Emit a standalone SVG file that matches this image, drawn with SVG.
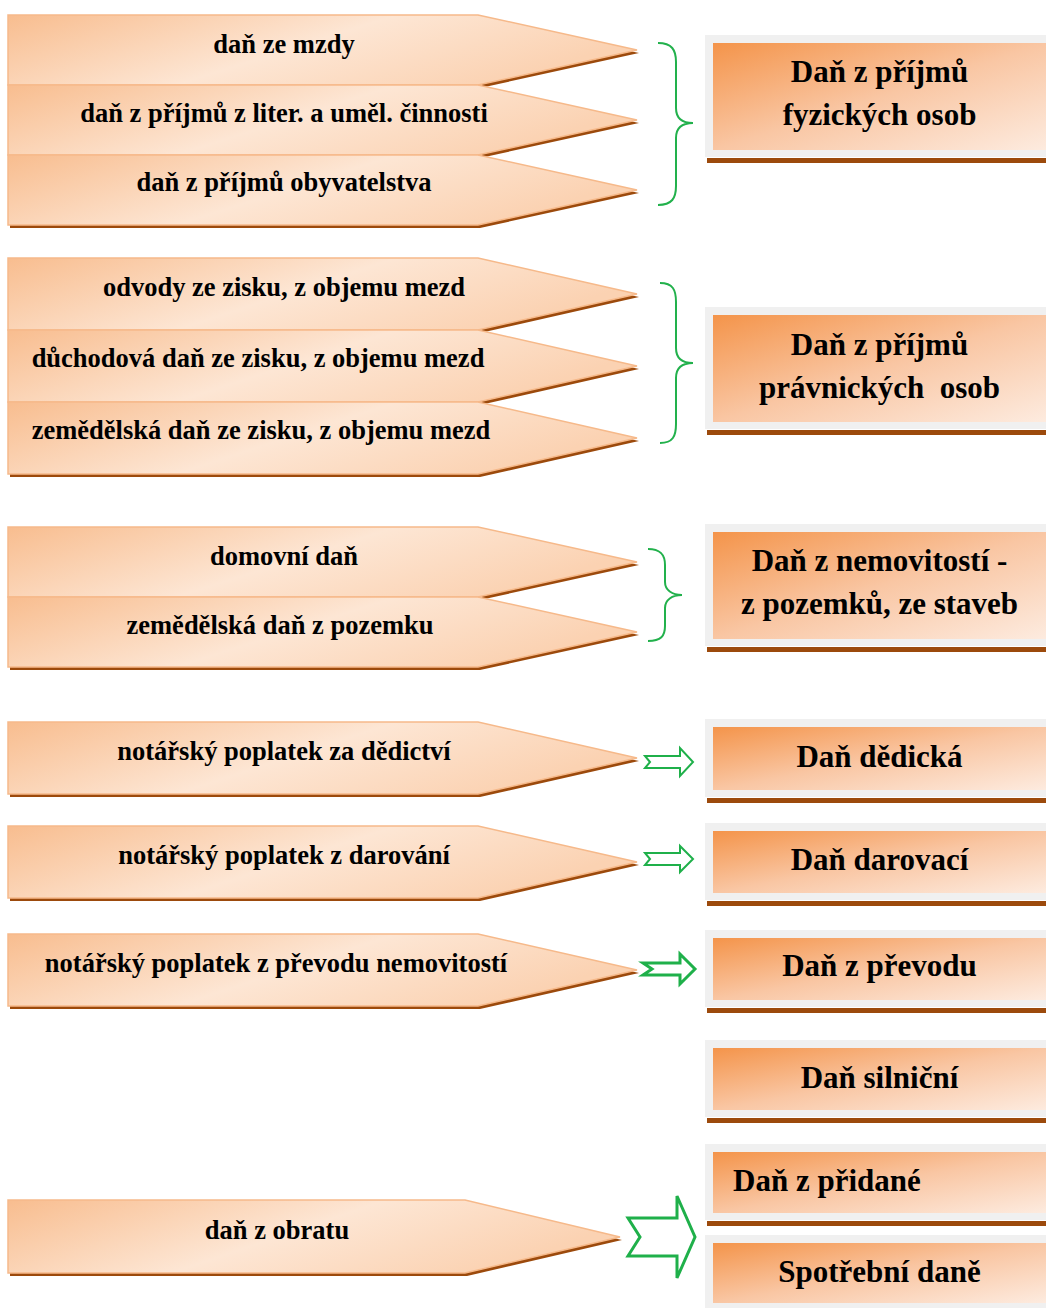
<svg xmlns="http://www.w3.org/2000/svg" width="1046" height="1308" viewBox="0 0 1046 1308">
  <defs>
    <linearGradient id="tagFill" x1="0" y1="0" x2="1" y2="0.35">
      <stop offset="0" stop-color="#f8bd8f"/>
      <stop offset="0.55" stop-color="#fde6d4"/>
      <stop offset="1" stop-color="#fbd2b2"/>
    </linearGradient>
    <linearGradient id="boxFill" x1="0" y1="0" x2="1" y2="1">
      <stop offset="0" stop-color="#f4944a"/>
      <stop offset="0.5" stop-color="#f9c6a3"/>
      <stop offset="1" stop-color="#fdebdf"/>
    </linearGradient>
    <style>
      .tag { fill: url(#tagFill); stroke: #f6b98a; stroke-width: 1.5; }
      .tagShadow { fill: #9c4a0c; }
      .frame { fill: #f0f0f0; }
      .box { fill: url(#boxFill); }
      .rule { fill: #9c4a0c; }
      .lbl { font-family: "Liberation Serif", "Times New Roman", serif; font-weight: bold; font-size: 26.5px; fill: #000; text-anchor: middle; }
      .ttl { font-family: "Liberation Serif", "Times New Roman", serif; font-weight: bold; font-size: 31px; fill: #000; text-anchor: middle; }
      .brace { fill: none; stroke: #22b14c; stroke-width: 2; }
      .arr { fill: #fff; stroke: #1fb04a; stroke-width: 2; stroke-linejoin: miter; }
    </style>
  </defs>

  <!-- left tags: older taxes -->
  <g id="tag-mzdy">
    <polygon class="tagShadow" points="10,18 480,18 639,53 480,88 10,88"/>
    <polygon class="tag" points="8,15 478,15 637,50 478,85 8,85"/>
    <text class="lbl" x="284" y="53">daň ze mzdy</text>
  </g>
  <g id="tag-liter">
    <polygon class="tagShadow" points="10,88 480,88 639,123 480,158 10,158"/>
    <polygon class="tag" points="8,85 478,85 637,120 478,155 8,155"/>
    <text class="lbl" x="284" y="122">daň z příjmů z liter. a uměl. činnosti</text>
  </g>
  <g id="tag-obyv">
    <polygon class="tagShadow" points="10,158 480,158 639,193 480,228 10,228"/>
    <polygon class="tag" points="8,155 478,155 637,190 478,225 8,225"/>
    <text class="lbl" x="284" y="191">daň z příjmů obyvatelstva</text>
  </g>

  <g id="tag-odvody">
    <polygon class="tagShadow" points="10,261 480,261 639,297 480,333 10,333"/>
    <polygon class="tag" points="8,258 478,258 637,294 478,330 8,330"/>
    <text class="lbl" x="284" y="296">odvody ze zisku, z objemu mezd</text>
  </g>
  <g id="tag-duchod">
    <polygon class="tagShadow" points="10,333 480,333 639,369 480,405 10,405"/>
    <polygon class="tag" points="8,330 478,330 637,366 478,402 8,402"/>
    <text class="lbl" x="258" y="367">důchodová daň ze zisku, z objemu mezd</text>
  </g>
  <g id="tag-zemed">
    <polygon class="tagShadow" points="10,405 480,405 639,441 480,477 10,477"/>
    <polygon class="tag" points="8,402 478,402 637,438 478,474 8,474"/>
    <text class="lbl" x="261" y="439">zemědělská daň ze zisku, z objemu mezd</text>
  </g>

  <g id="tag-domovni">
    <polygon class="tagShadow" points="10,530 480,530 639,565 480,600 10,600"/>
    <polygon class="tag" points="8,527 478,527 637,562 478,597 8,597"/>
    <text class="lbl" x="284" y="565">domovní daň</text>
  </g>
  <g id="tag-pozemek">
    <polygon class="tagShadow" points="10,600 480,600 639,635 480,670 10,670"/>
    <polygon class="tag" points="8,597 478,597 637,632 478,667 8,667"/>
    <text class="lbl" x="280" y="634">zemědělská daň z pozemku</text>
  </g>

  <g id="tag-dedictvi">
    <polygon class="tagShadow" points="10,725 480,725 639,761 480,797 10,797"/>
    <polygon class="tag" points="8,722 478,722 637,758 478,794 8,794"/>
    <text class="lbl" x="284" y="760">notářský poplatek za dědictví</text>
  </g>
  <g id="tag-darovani">
    <polygon class="tagShadow" points="10,829 480,829 639,865 480,901 10,901"/>
    <polygon class="tag" points="8,826 478,826 637,862 478,898 8,898"/>
    <text class="lbl" x="284" y="864">notářský poplatek z darování</text>
  </g>
  <g id="tag-prevod">
    <polygon class="tagShadow" points="10,937 480,937 639,973 480,1009 10,1009"/>
    <polygon class="tag" points="8,934 478,934 637,970 478,1006 8,1006"/>
    <text class="lbl" x="276" y="972">notářský poplatek z převodu nemovitostí</text>
  </g>

  <g id="tag-obrat">
    <polygon class="tagShadow" points="10,1203 467,1203 622,1240 467,1276 10,1276"/>
    <polygon class="tag" points="8,1200 465,1200 620,1237 465,1273 8,1273"/>
    <text class="lbl" x="277" y="1239">daň z obratu</text>
  </g>

  <!-- right boxes: current taxes -->
  <g id="box-fo">
    <rect class="rule" x="707" y="158" width="339" height="5"/>
    <rect class="frame" x="705" y="35" width="341" height="122"/>
    <rect class="box" x="713" y="43" width="333" height="107"/>
    <text class="ttl" x="879.5" y="82">Daň z příjmů</text>
    <text class="ttl" x="879.5" y="125">fyzických osob</text>
  </g>
  <g id="box-po">
    <rect class="rule" x="707" y="430" width="339" height="5"/>
    <rect class="frame" x="705" y="307" width="341" height="122"/>
    <rect class="box" x="713" y="315" width="333" height="107"/>
    <text class="ttl" x="879.5" y="355">Daň z příjmů</text>
    <text class="ttl" x="879.5" y="398">právnických&#160; osob</text>
  </g>
  <g id="box-nemovitosti">
    <rect class="rule" x="707" y="647" width="339" height="5"/>
    <rect class="frame" x="705" y="524" width="341" height="122"/>
    <rect class="box" x="713" y="532" width="333" height="107"/>
    <text class="ttl" x="879.5" y="571">Daň z nemovitostí -</text>
    <text class="ttl" x="879.5" y="614">z pozemků, ze staveb</text>
  </g>
  <g id="box-dedicka">
    <rect class="rule" x="707" y="798" width="339" height="5"/>
    <rect class="frame" x="705" y="719" width="341" height="78"/>
    <rect class="box" x="713" y="727" width="333" height="63"/>
    <text class="ttl" x="879.5" y="767">Daň dědická</text>
  </g>
  <g id="box-darovaci">
    <rect class="rule" x="707" y="901" width="339" height="5"/>
    <rect class="frame" x="705" y="823" width="341" height="77"/>
    <rect class="box" x="713" y="831" width="333" height="62"/>
    <text class="ttl" x="879.5" y="870">Daň darovací</text>
  </g>
  <g id="box-prevod">
    <rect class="rule" x="707" y="1008" width="339" height="5"/>
    <rect class="frame" x="705" y="930" width="341" height="77"/>
    <rect class="box" x="713" y="938" width="333" height="62"/>
    <text class="ttl" x="879.5" y="976">Daň z převodu</text>
  </g>
  <g id="box-silnicni">
    <rect class="rule" x="707" y="1118" width="339" height="5"/>
    <rect class="frame" x="705" y="1040" width="341" height="77"/>
    <rect class="box" x="713" y="1048" width="333" height="62"/>
    <text class="ttl" x="879.5" y="1088">Daň silniční</text>
  </g>
  <g id="box-dph">
    <rect class="rule" x="707" y="1221" width="339" height="5"/>
    <rect class="frame" x="705" y="1144" width="341" height="76"/>
    <rect class="box" x="713" y="1152" width="333" height="61"/>
    <text class="ttl" x="733" y="1191" style="text-anchor:start">Daň z přidané</text>
  </g>
  <g id="box-spotrebni">
    <rect class="frame" x="705" y="1235" width="341" height="73"/>
    <rect class="box" x="713" y="1243" width="333" height="60"/>
    <text class="ttl" x="879.5" y="1282">Spotřební daně</text>
  </g>

  <!-- connectors: braces and block arrows -->
  <g id="connectors">
    <path class="brace" d="M658,43 C672,43 676,50 676,62 L676,108 C676,118 682,123 693,123 C682,123 676,128 676,138 L676,186 C676,198 672,205 658,205"/>
    <path class="brace" d="M660,283 C673,283 676,290 676,302 L676,348 C676,358 682,363 693,363 C682,363 676,368 676,378 L676,424 C676,436 673,443 660,443"/>
    <path class="brace" d="M648,549 C661,549 665,555 665,565 L665,582 C665,590 672,595 682,595 C672,595 665,600 665,608 L665,626 C665,636 661,641 648,641"/>
    <path class="arr" d="M645,756 L680,756 L680,748 L693,762 L680,776 L680,768 L645,768 L650,762 Z"/>
    <path class="arr" d="M645,853 L680,853 L680,846 L693,859 L680,872 L680,865 L645,865 L650,859 Z"/>
    <path class="arr" style="stroke-width:3" d="M643,963 L680,963 L680,954 L695,969 L680,984 L680,975 L643,975 L652,969 Z"/>
    <path class="arr" style="stroke-width:3" d="M628,1218 L677,1218 L677,1196 L695,1237 L677,1278 L677,1256 L628,1256 L640,1237 Z"/>
  </g>
</svg>
